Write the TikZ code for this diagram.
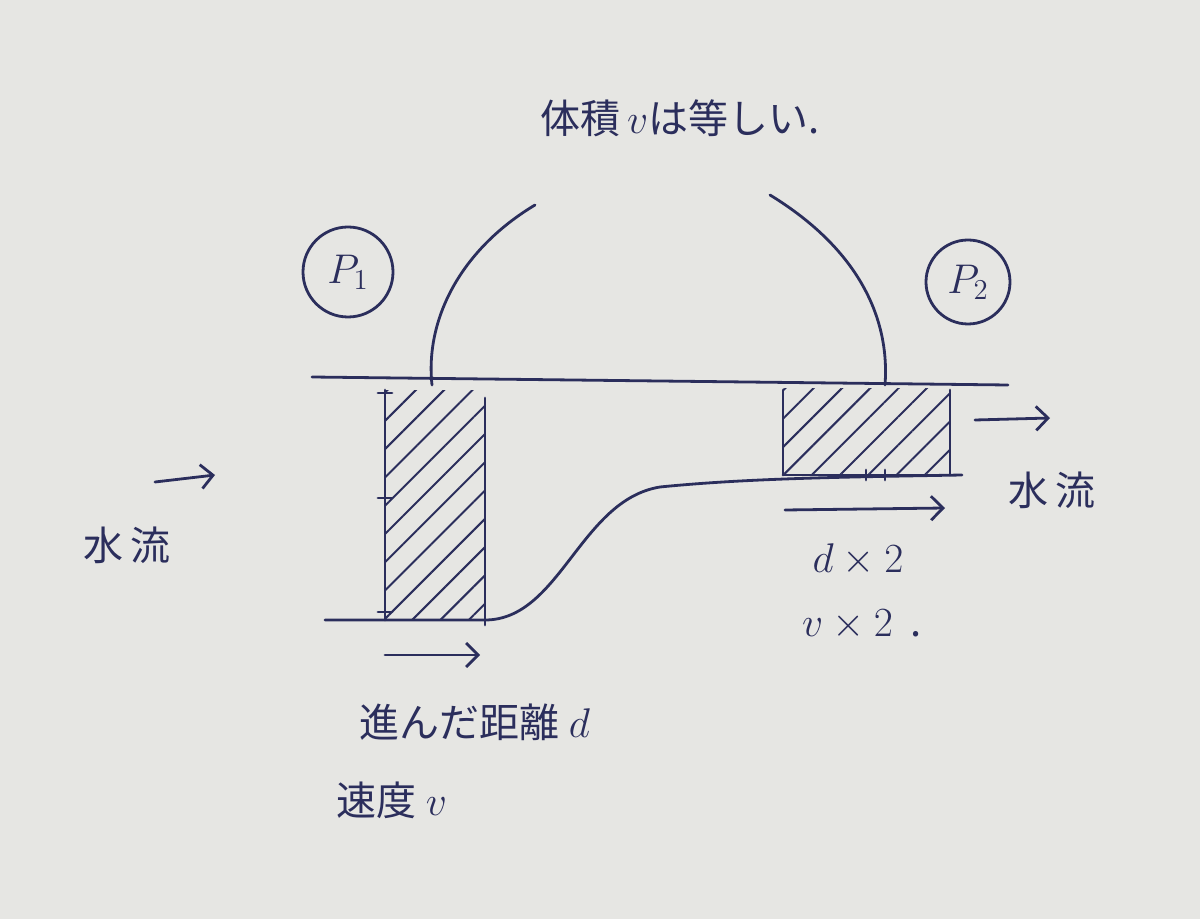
\documentclass[tikz,border=0pt]{standalone}
\usepackage{fontspec}
\setmainfont{Noto Sans CJK JP}
\usetikzlibrary{patterns,arrows.meta}
\definecolor{ink}{HTML}{2B2E5C}
\definecolor{paper}{HTML}{E6E6E3}
\begin{document}
\begin{tikzpicture}[x=0.5pt,y=-0.5pt,
  pen/.style={draw=ink,line width=1.4pt,line cap=round},
  arr/.style={pen,-{Straight Barb[length=6pt]}},
  lbl/.style={text=ink,font=\fontsize{20}{24}\selectfont},
  hatch/.style={pen,pattern={Lines[angle=45,distance=10pt,line width=1pt]},pattern color=ink}]
\usetikzlibrary{patterns.meta}
\fill[paper] (0,0) rectangle (1200,919);
\useasboundingbox (0,0) rectangle (1200,919);
% title
\node[lbl] (title) at (680,118) {体積\,$v$は等しい.};
% circles
\node[pen,draw,circle,minimum size=45pt,lbl] (p1) at (348,272) {$P_1$};
\node[pen,draw,circle,minimum size=42pt,lbl] (p2) at (968,282) {$P_2$};
% surfaces
\coordinate (t1) at (312,377); \coordinate (t2) at (1008,385);
\draw[pen] (t1) -- (t2);
\coordinate (b1) at (325,620); \coordinate (b2) at (962,475);
\draw[pen] (b1) -- (485,620) .. controls (560,620) and (580,500) .. (660,487) .. controls (750,478) and (850,477) .. (b2);
% arcs
\coordinate (a1) at (535,205); \coordinate (a1e) at (432,385);
\draw[pen] (a1) .. controls (460,250) and (425,320) .. (a1e);
\coordinate (a2) at (770,195); \coordinate (a2e) at (885,385);
\draw[pen] (a2) .. controls (860,250) and (890,320) .. (a2e);
% left hatched box
\node[hatch,draw=none,minimum width=50pt,minimum height=114pt,inner sep=0] (r1) at (435,505) {};
\draw[pen] (385,390) -- (385,620);
\draw[pen] (378,393) -- (392,393) (378,498) -- (392,498) (378,612) -- (392,612);
\draw[pen] (485,398) -- (485,625);
% right hatched box
\node[hatch,draw=none,minimum width=83pt,minimum height=43pt,inner sep=0] (r2) at (866,432) {};
\draw[pen] (783,390) -- (783,475) (950,390) -- (950,475);
\draw[pen] (783,475) -- (950,475);
\draw[pen] (866,470) -- (866,480) (885,470) -- (885,480);
% arrows
\coordinate (la1) at (155,482); \coordinate (la2) at (215,475);
\draw[arr] (la1) -- (la2);
\node[lbl] (w1) at (127,545) {水\,流};
\coordinate (ba1) at (385,655); \coordinate (ba2) at (480,655);
\draw[arr] (ba1) -- (ba2);
\coordinate (ra1) at (785,510); \coordinate (ra2) at (945,508);
\draw[arr] (ra1) -- (ra2);
\coordinate (ta1) at (975,420); \coordinate (ta2) at (1050,418);
\draw[arr] (ta1) -- (ta2);
\node[lbl] (w2) at (1052,490) {水\,流};
% labels
\node[lbl] (l1) at (475,722) {進んだ距離\ $d$};
\node[lbl] (l2) at (392,800) {速度\ $v$};
\node[lbl] (l3) at (858,560) {$d\times2$};
\node[lbl] (l4) at (862,625) {$v\times2$\ \ .};
\end{tikzpicture}
\end{document}
